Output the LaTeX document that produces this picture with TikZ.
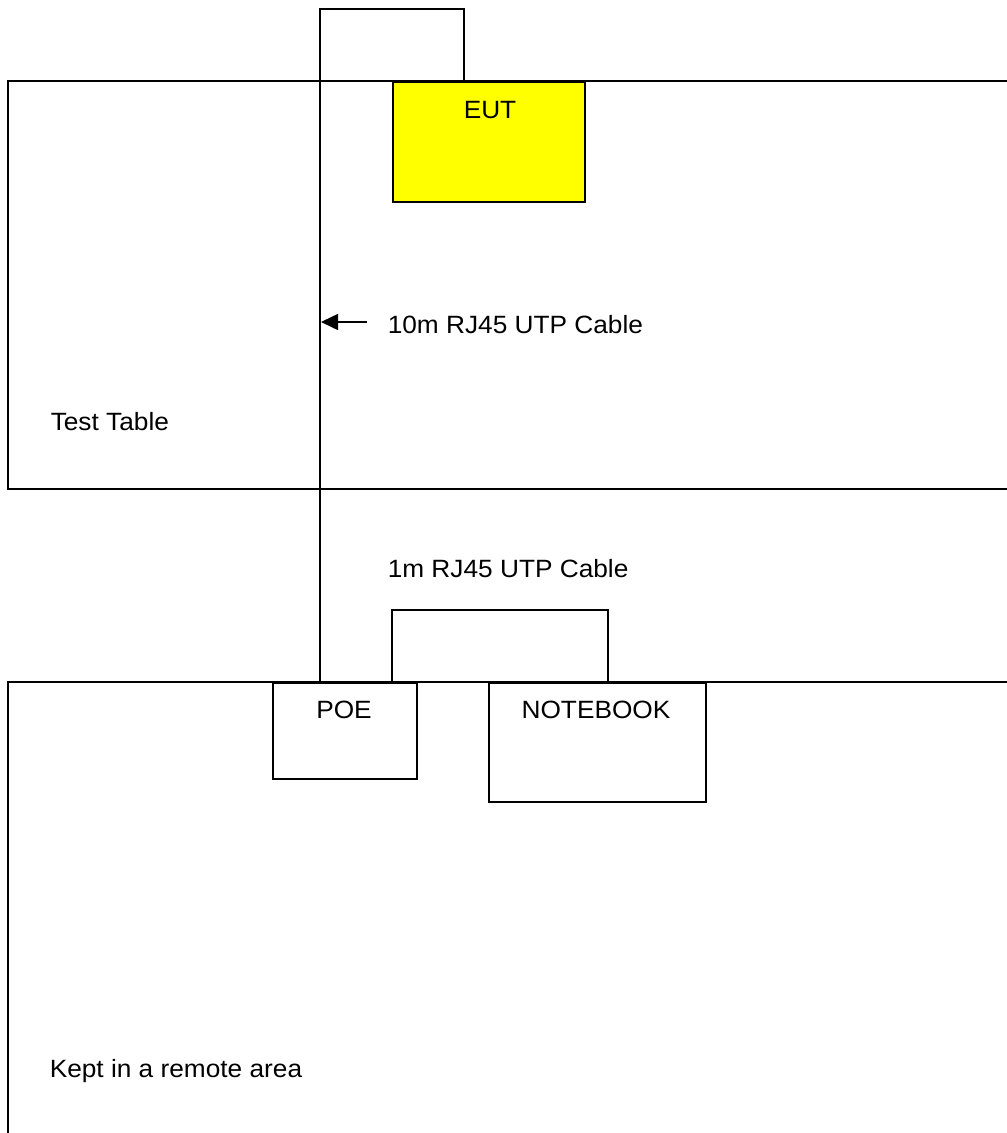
\documentclass[tikz,border=0pt]{standalone}
\usepackage{fontspec}
\setmainfont{Liberation Sans}[FakeStretch=1.05]
\usetikzlibrary{arrows.meta}
\definecolor{eutyellow}{RGB}{255,255,0}
\begin{document}
\begin{tikzpicture}[x=1pt,y=-1pt,
  line width=1.5pt,
  tablebox/.style={draw=black, fill=white, line width=1.5pt},
  devbox/.style={draw=black, line width=1.5pt, anchor=north west, inner sep=0pt},
  lbl/.style={font=\fontsize{25}{30}\selectfont, inner sep=0pt, anchor=base west},
  clbl/.style={font=\fontsize{25}{30}\selectfont, inner sep=0pt, anchor=base}]
\useasboundingbox (0,0) rectangle (1007,1133);
\clip (0,0) rectangle (1007,1133);
\fill[white] (0,0) rectangle (1007,1133);
% tables
\draw[tablebox] (8,81) rectangle (1020,489);
\draw[tablebox] (8,682) rectangle (1020,1150);
% devices
\node[devbox, fill=eutyellow, minimum width=192pt, minimum height=120pt] (eut) at (392,81) {};
\node[devbox, fill=white, minimum width=144pt, minimum height=96pt] (poe) at (272,682) {};
\node[devbox, fill=white, minimum width=217pt, minimum height=119pt] (nb) at (488,682) {};
% device labels
\node[clbl] (eutlbl) at (490,118) {EUT};
\node[clbl] (poelbl) at (344,718) {POE};
\node[clbl] (nblbl) at (596,718) {NOTEBOOK};
% 10m cable
\coordinate (eutport) at (464,81);
\coordinate (c1a) at (464,9);
\coordinate (c1b) at (320,9);
\draw (eutport) -- (c1a) -- (c1b) -- (c1b |- poe.north);
% 1m cable
\coordinate (poeport) at (392,682);
\coordinate (nbport) at (608,682);
\coordinate (c2top) at (500,610);
\draw (poeport) |- (c2top) -| (nbport);
% arrow
\coordinate (arrstart) at (367,322);
\coordinate (arrtip) at (321,322);
\draw[-{Triangle[length=17pt,width=16pt]}] (arrstart) -- (arrtip);
% texts
\node[lbl] (t10m) at (387,333) {10m RJ45 UTP Cable};
\node[lbl] (t1m) at (387,577) {1m RJ45 UTP Cable};
\node[lbl] (ttable) at (50,430) {Test Table};
\node[lbl] (tremote) at (49,1077) {Kept in a remote area};
\end{tikzpicture}
\end{document}
